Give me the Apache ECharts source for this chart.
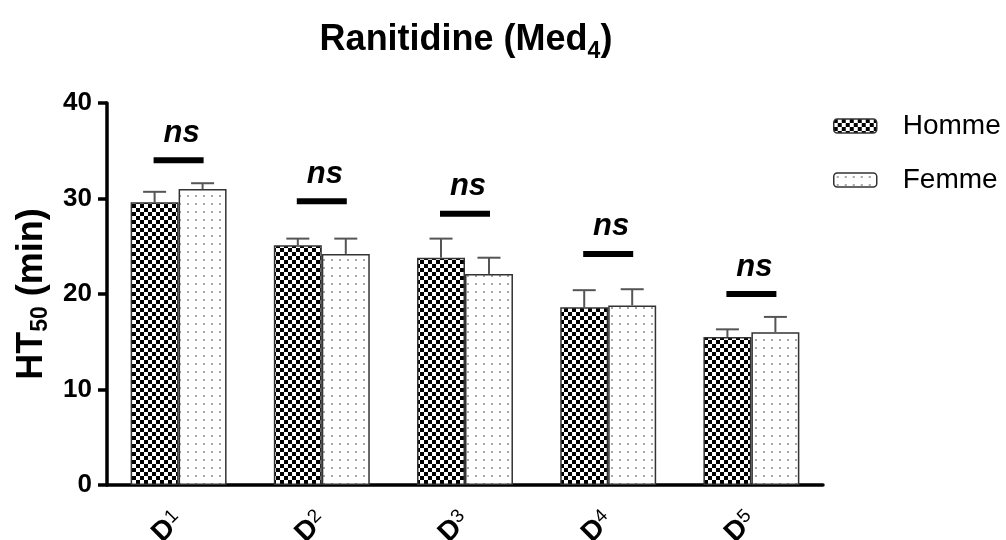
<!DOCTYPE html>
<html><head><meta charset="utf-8">
<script src="https://cdn.jsdelivr.net/npm/echarts@6/dist/echarts.min.js"></script>
<style>html,body{margin:0;padding:0;background:#fff}#c{width:1006px;height:540px}</style>
</head><body><div id="c"></div>
<script>
const categories = ['D1','D2','D3','D4','D5'];
const hommeMean = [29.6, 25.1, 23.8, 18.6, 15.5];
const hommeErrTop = [30.7, 25.8, 25.8, 20.4, 16.3];
const femmeMean = [31.0, 24.2, 22.1, 18.8, 16.0];
const femmeErrTop = [31.6, 25.8, 23.8, 20.5, 17.6];
const nsLevel = [34.0, 29.7, 28.4, 24.2, 20.0];
const yTicks = [0, 10, 20, 30, 40];

function checker() {
  const c = document.createElement('canvas'); c.width = 8; c.height = 8;
  const g = c.getContext('2d');
  g.fillStyle = '#fff'; g.fillRect(0,0,8,8);
  g.fillStyle = '#000'; g.fillRect(0,0,4,4); g.fillRect(4,4,4,4);
  return c;
}
function dots() {
  const c = document.createElement('canvas'); c.width = 8; c.height = 8;
  const g = c.getContext('2d');
  g.fillStyle = '#fff'; g.fillRect(0,0,8,8);
  g.fillStyle = '#a6a6a6'; g.fillRect(3,3,2,2);
  return c;
}

const chart = echarts.init(document.getElementById('c'));
const FONT = 'Liberation Sans, Arial, sans-serif';

function errRender(offsetSign) {
  return function (params, api) {
    const i = api.value(0);
    const band = api.size([1, 0])[0];
    const bw = band * 0.67 / 2;
    const base = api.coord([i, api.value(1)]);
    const top = api.coord([i, api.value(2)]);
    const x = base[0] + offsetSign * bw / 2;
    const cap = 11.5;
    const st = { stroke: '#555', lineWidth: 2 };
    return { type: 'group', children: [
      { type: 'line', shape: { x1: x, y1: base[1], x2: x, y2: top[1] }, style: st },
      { type: 'line', shape: { x1: x - cap, y1: top[1], x2: x + cap, y2: top[1] }, style: st }
    ]};
  };
}

chart.setOption({
  animation: false,
  title: {
    text: '{a|Ranitidine (Med}{s|4}{a|)}',
    left: 461, top: 12, textAlign: 'center',
    textStyle: {
      rich: {
        a: { fontFamily: FONT, fontSize: 36, fontWeight: 'bold', color: '#000', lineHeight: 46, verticalAlign: 'middle' },
        s: { fontFamily: FONT, fontSize: 23, fontWeight: 'bold', color: '#000', lineHeight: 46, verticalAlign: 'bottom' }
      }
    }
  },
  legend: {
    orient: 'vertical', left: 833, top: 111, padding: 0,
    itemWidth: 43, itemHeight: 14, itemGap: 24,
    data: ['Homme', 'Femme'],
    itemStyle: { borderColor: '#333', borderWidth: 1.5 },
    textStyle: { fontFamily: FONT, fontSize: 28, color: '#000', lineHeight: 30, padding: [0,0,0,21] }
  },
  grid: { left: 107, right: 183, top: 103, bottom: 55, containLabel: false, outerBoundsMode: 'none' },
  xAxis: {
    type: 'category', data: categories,
    axisLine: { lineStyle: { color: '#000', width: 3.5 } },
    axisTick: { alignWithLabel: true, length: 9, lineStyle: { color: '#000', width: 3.5 } },
    axisLabel: {
      rotate: 45, margin: 31,
      formatter: v => '{d|' + v.charAt(0) + '}{n|' + v.slice(1) + '}',
      rich: {
        d: { fontFamily: FONT, fontSize: 28, fontWeight: 'bold', color: '#000', lineHeight: 28, verticalAlign: 'bottom' },
        n: { fontFamily: FONT, fontSize: 19, color: '#000', lineHeight: 28, verticalAlign: 'top' }
      }
    }
  },
  yAxis: {
    type: 'value', min: 0, max: 40, interval: 10,
    name: '{a|HT}{s|50}{a| (min)}', nameLocation: 'middle', nameGap: 52, nameRotate: 90,
    nameTextStyle: {
      rich: {
        a: { fontFamily: FONT, fontSize: 36, fontWeight: 'bold', color: '#000', lineHeight: 40, verticalAlign: 'middle' },
        s: { fontFamily: FONT, fontSize: 23, fontWeight: 'bold', color: '#000', lineHeight: 40, verticalAlign: 'bottom' }
      }
    },
    axisLine: { show: true, lineStyle: { color: '#000', width: 3.5 } },
    axisTick: { show: true, length: 9, lineStyle: { color: '#000', width: 3.5 } },
    splitLine: { show: false },
    axisLabel: {
      margin: 15, fontFamily: FONT, fontSize: 26, fontWeight: 'bold', color: '#000',
      formatter: v => (yTicks.indexOf(v) >= 0 ? String(v) : '')
    }
  },
  series: [
    { name: 'Homme', type: 'bar', data: hommeMean, barGap: '0%', barCategoryGap: '33%',
      itemStyle: { color: { image: checker(), repeat: 'repeat' }, borderColor: '#333', borderWidth: 1.5 }, z: 2 },
    { name: 'Femme', type: 'bar', data: femmeMean,
      itemStyle: { color: { image: dots(), repeat: 'repeat' }, borderColor: '#333', borderWidth: 1.5 }, z: 2 },
    { type: 'custom', z: 3, renderItem: errRender(-1), encode: { x: 0, y: [1, 2] },
      data: hommeMean.map((v, i) => [i, v, hommeErrTop[i]]) },
    { type: 'custom', z: 3, renderItem: errRender(1), encode: { x: 0, y: [1, 2] },
      data: femmeMean.map((v, i) => [i, v, femmeErrTop[i]]) },
    { type: 'custom', z: 4, encode: { x: 0, y: 1 },
      data: nsLevel.map((v, i) => [i, v]),
      renderItem: function (params, api) {
        const p = api.coord([api.value(0), api.value(1)]);
        return { type: 'group', children: [
          { type: 'rect', shape: { x: p[0] - 25, y: p[1] - 3, width: 50, height: 6 }, style: { fill: '#000' } },
          { type: 'text', style: { text: 'ns', x: p[0] + 3, y: p[1] - 27, align: 'center', verticalAlign: 'middle',
              font: 'italic bold 31px ' + FONT, fill: '#000' } }
        ]};
      }
    }
  ]
});
</script></body></html>
